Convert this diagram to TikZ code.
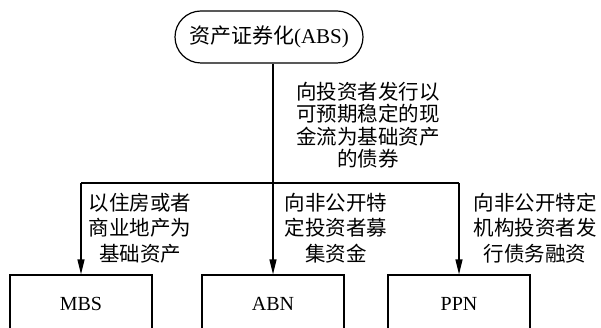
\documentclass[tikz,border=0pt]{standalone}
\usepackage{fontspec}
\setmainfont{Liberation Serif}
\newfontfamily\cjk{Noto Sans CJK SC}
\usetikzlibrary{arrows.meta}
\begin{document}
\begin{tikzpicture}[x=1pt,y=-1pt,
  line/.style={line width=1.2pt,draw=black},
  arr/.style={line,-{Triangle[length=15pt,width=7pt]}},
  box/.style={line,minimum width=142pt,minimum height=58pt,inner sep=0pt,font=\fontsize{20}{24}\selectfont},
  topbox/.style={line,rounded corners=26pt,minimum width=188pt,minimum height=52pt,inner sep=0pt,font=\fontsize{21}{25}\selectfont},
  lbl/.style={align=center,inner sep=0pt,font=\cjk\fontsize{20.5}{25.5}\selectfont},
  clbl/.style={align=center,inner sep=0pt,font=\cjk\fontsize{20.5}{22.5}\selectfont}]
\useasboundingbox (0,0) rectangle (601,328);
\node[topbox] (top) at (269,37) {{\cjk 资产证券化}(ABS)};
\node[box] (mbs) at (81,304) {MBS};
\node[box] (abn) at (273,304) {ABN};
\node[box] (ppn) at (459,304) {PPN};
\coordinate (split) at (273,183);
\draw[line] (top.south -| split) -- (split);
\draw[line] (mbs.north |- split) -- (ppn.north |- split);
\draw[arr] (mbs.north |- split) -- (mbs.north);
\draw[arr] (split) -- (abn.north);
\draw[arr] (ppn.north |- split) -- (ppn.north);
\node[clbl] (cl) at (368,125) {向投资者发行以\\可预期稳定的现\\金流为基础资产\\的债券};
\node[lbl] (ll) at (140,228) {以住房或者\\商业地产为\\基础资产};
\node[lbl] (ml) at (336,228) {向非公开特\\定投资者募\\集资金};
\node[lbl] (rl) at (535,228) {向非公开特定\\机构投资者发\\行债务融资};
\end{tikzpicture}
\end{document}
